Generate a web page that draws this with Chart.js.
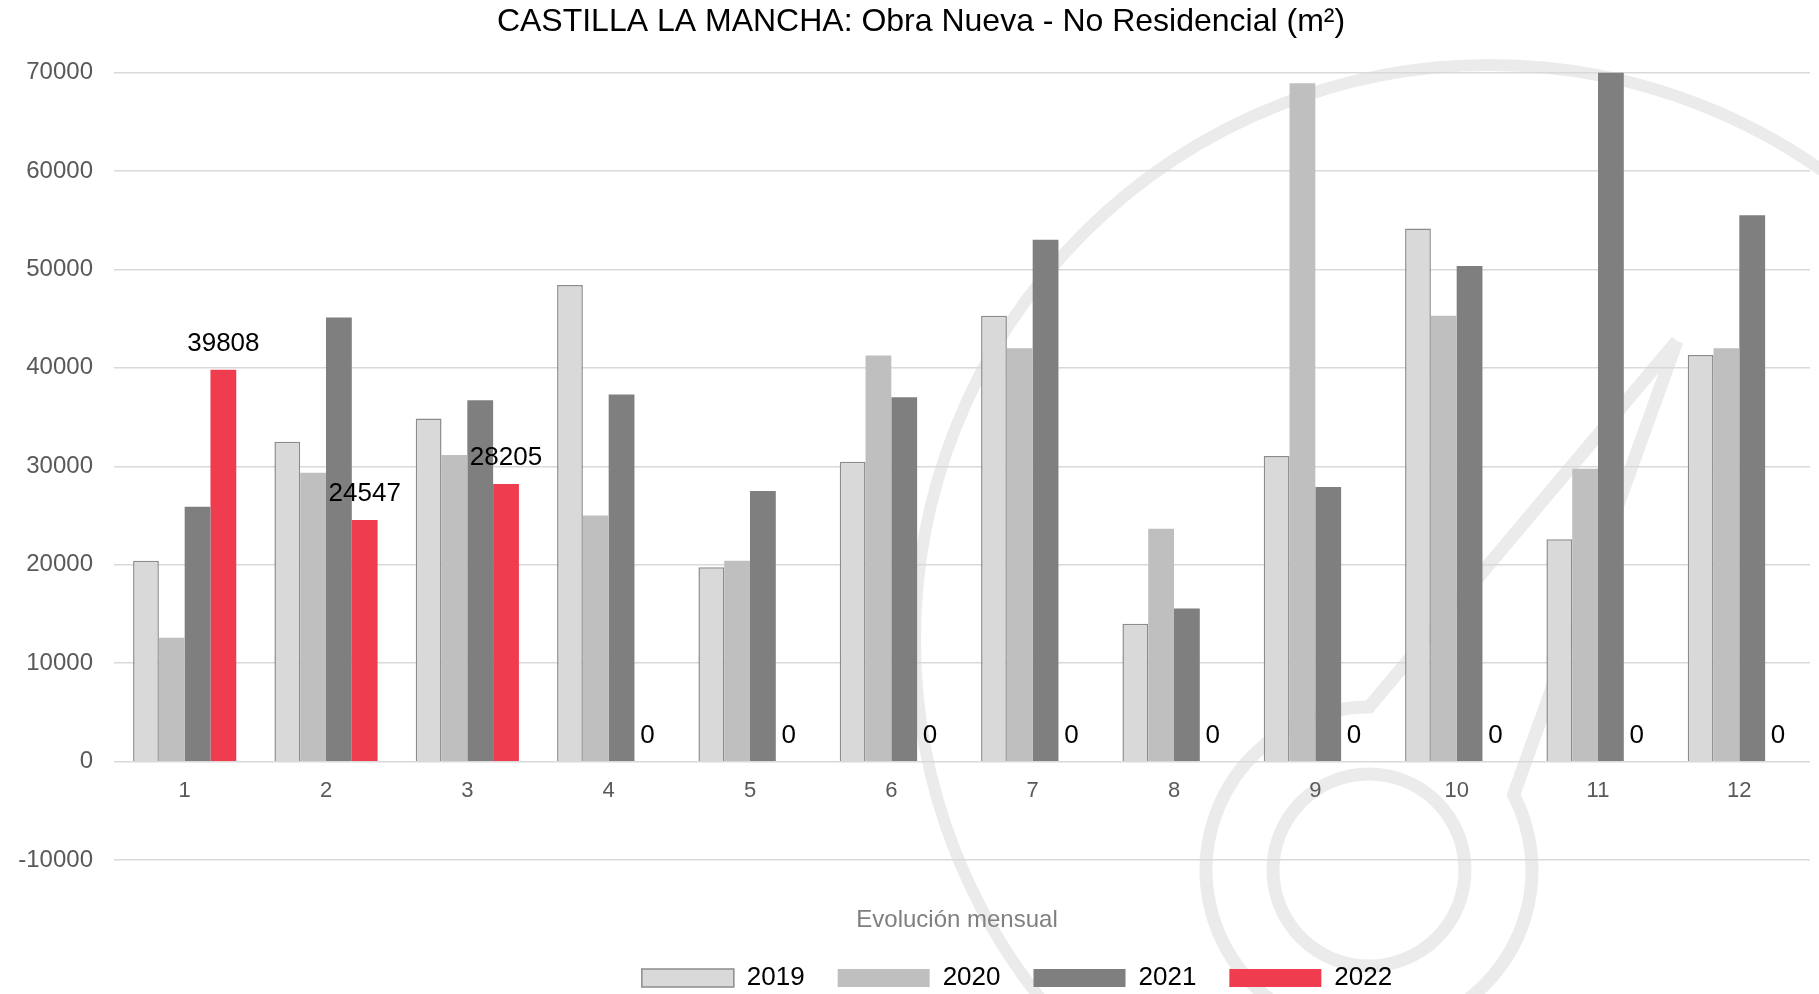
<!DOCTYPE html>
<html>
<head>
<meta charset="utf-8">
<script src="https://cdn.jsdelivr.net/npm/chart.js@4.4.0/dist/chart.umd.min.js"></script>
<style>
  html, body { margin: 0; padding: 0; background: #fff; }
  #wrap { width: 1819px; height: 994px; }
</style>
</head>
<body>
<div id="wrap"><canvas id="c" width="1819" height="994"></canvas></div>
<script>
const months = ['1','2','3','4','5','6','7','8','9','10','11','12'];
const seriesNames = ['2019','2020','2021','2022'];
const v2019 = [20400, 32500, 34850, 48400, 19750, 30450, 45300, 14000, 31050, 54150, 22600, 41300];
const v2020 = [12600, 29350, 31150, 25000, 20400, 41250, 42000, 23650, 68900, 45300, 29750, 42000];
const v2021 = [25900, 45100, 36700, 37300, 27500, 37000, 53000, 15550, 27900, 50350, 70000, 55500];
const v2022 = [39808, 24547, 28205, 0, 0, 0, 0, 0, 0, 0, 0, 0];
const yMin = -10000, yMax = 70000, yStep = 10000;
const titleText = 'CASTILLA LA MANCHA: Obra Nueva - No Residencial (m²)';
const xTitleText = 'Evolución mensual';

const FONT = '"Liberation Sans", Arial, Helvetica, sans-serif';
Chart.defaults.font.family = FONT;

const watermark = {
  id: 'watermark',
  beforeDraw(chart) {
    const ctx = chart.ctx;
    ctx.save();
    ctx.fillStyle = '#ffffff';
    ctx.fillRect(0, 0, chart.width, chart.height);
    ctx.strokeStyle = '#ebebeb';
    ctx.lineWidth = 12;
    ctx.beginPath(); ctx.arc(1490, 640, 575, 0, Math.PI * 2); ctx.stroke();
    ctx.lineWidth = 13;
    ctx.beginPath(); ctx.arc(1369, 870, 96, 0, Math.PI * 2); ctx.stroke();
    ctx.lineJoin = 'miter';
    ctx.beginPath();
    const a0 = Math.atan2(-76, 146);
    ctx.moveTo(1677, 341);
    ctx.lineTo(1369 + 163 * Math.cos(a0), 870 + 163 * Math.sin(a0));
    ctx.arc(1369, 870, 163, a0, 1.5 * Math.PI, false);
    ctx.lineTo(1677, 341);
    ctx.stroke();
    ctx.restore();
  }
};

const shiftBoxes = {
  id: 'shiftBoxes',
  afterLayout(chart) {
    const dl = 106;
    chart.legend.left += dl; chart.legend.right += dl;
    const dt = 10;
    chart.titleBlock.left += dt; chart.titleBlock.right += dt;
    const dx = -5;
    chart.scales.x2.left += dx; chart.scales.x2.right += dx;
  }
};

const valueLabels = {
  id: 'valueLabels',
  afterDatasetsDraw(chart) {
    const ctx = chart.ctx;
    const meta = chart.getDatasetMeta(3);
    ctx.save();
    ctx.font = '26px ' + FONT;
    ctx.fillStyle = '#000000';
    ctx.textAlign = 'center';
    ctx.textBaseline = 'middle';
    meta.data.forEach((bar, i) => {
      ctx.fillText(String(v2022[i]), bar.x, bar.y - 26);
    });
    ctx.restore();
  }
};

new Chart(document.getElementById('c'), {
  type: 'bar',
  data: {
    labels: months,
    datasets: [
      { label: seriesNames[0], data: v2019, backgroundColor: '#d9d9d9', borderColor: '#8c8c8c', borderWidth: 1.5 },
      { label: seriesNames[1], data: v2020, backgroundColor: '#bfbfbf', borderWidth: 0 },
      { label: seriesNames[2], data: v2021, backgroundColor: '#7f7f7f', borderWidth: 0 },
      { label: seriesNames[3], data: v2022, backgroundColor: '#ef3c4e', borderWidth: 0 }
    ]
  },
  options: {
    responsive: false,
    animation: false,
    devicePixelRatio: 1,
    events: [],
    datasets: { bar: { categoryPercentage: 0.73, barPercentage: 1.0 } },
    layout: { padding: { left: 12, right: 9, top: 0, bottom: 0 } },
    scales: {
      y: {
        min: yMin, max: yMax,
        ticks: { stepSize: yStep, padding: 21, color: '#595959', font: { size: 24 }, callback: v => String(v) },
        grid: { color: '#d9d9d9', lineWidth: 1.5, drawTicks: false },
        border: { display: false },
        afterFit: s => { s.width = 102; }
      },
      x: {
        position: { y: 0 },
        ticks: { padding: 16, color: '#595959', font: { size: 22 } },
        grid: { display: false, drawTicks: false },
        border: { display: false }
      },
      x2: {
        type: 'category',
        position: 'bottom',
        ticks: { display: false },
        grid: { display: false, drawTicks: false },
        border: { display: false },
        title: { display: true, text: xTitleText, color: '#7f7f7f', font: { size: 24 }, padding: { top: 46, bottom: -3 } }
      }
    },
    plugins: {
      title: { display: true, text: titleText, color: '#000000', font: { size: 32, weight: 'normal' }, padding: { top: 3, bottom: 31 } },
      legend: {
        position: 'bottom',
        maxHeight: 62,
        labels: { boxWidth: 92, boxHeight: 18, padding: 33, color: '#000000', font: { size: 26 } }
      },
      tooltip: { enabled: false }
    }
  },
  plugins: [watermark, shiftBoxes, valueLabels]
});
</script>
</body>
</html>
